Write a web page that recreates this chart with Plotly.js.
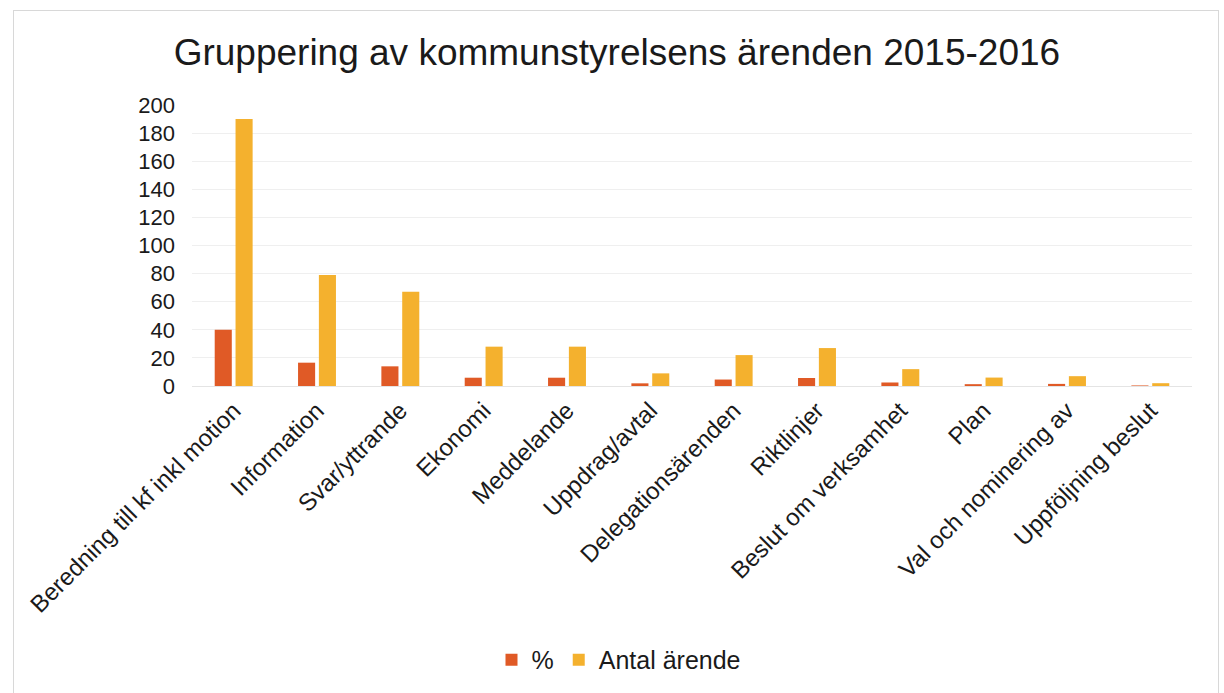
<!DOCTYPE html>
<html>
<head>
<meta charset="utf-8">
<script src="https://cdn.plot.ly/plotly-3.0.1.min.js"></script>
<style>
html,body{margin:0;padding:0;background:#fff;}
#wrap{position:relative;width:1224px;height:693px;}
#chart{width:1224px;height:693px;}
#frame{position:absolute;left:13px;top:10px;width:1204px;height:690px;border:1px solid #d8d8d8;pointer-events:none;}
</style>
</head>
<body>
<div id="wrap"><div id="chart"></div><div id="frame"></div></div>
<script>
var categories = ["Beredning till kf inkl motion","Information","Svar/yttrande","Ekonomi","Meddelande","Uppdrag/avtal","Delegationsärenden","Riktlinjer","Beslut om verksamhet","Plan","Val och nominering av","Uppföljning beslut"];
var percentValues = [40, 16.6, 14, 5.9, 5.9, 1.9, 4.6, 5.7, 2.5, 1.3, 1.5, 0.4];
var antalValues = [190, 79, 67, 28, 28, 9, 22, 27, 12, 6, 7, 2];
var yTicks = [0,20,40,60,80,100,120,140,160,180,200];

var fontFam = "Liberation Sans, Arial, sans-serif";
var traces = [
  {type:"bar", name:"%", x:categories, y:percentValues, marker:{color:"#E05A26"}},
  {type:"bar", name:"Antal ärende", x:categories, y:antalValues, marker:{color:"#F4B12E"}}
];
var layout = {
  width:1224, height:693,
  margin:{l:192, r:32, t:105, b:306},
  paper_bgcolor:"#ffffff", plot_bgcolor:"#ffffff",
  font:{family:fontFam, color:"#1a1a1a"},
  title:{text:"Gruppering av kommunstyrelsens ärenden 2015-2016", font:{size:37, family:fontFam, color:"#1a1a1a"}, x:0.504, xanchor:"center", y:0.925, yanchor:"middle"},
  barmode:"group", bargap:0.5, bargroupgap:0.18,
  xaxis:{tickangle:-45, tickfont:{size:24, family:fontFam, color:"#1a1a1a"}, showline:true, linecolor:"#e4e4e4", ticks:"", showgrid:false},
  yaxis:{range:[0,200], tickvals:yTicks, tickfont:{size:22, family:fontFam, color:"#1a1a1a"}, showgrid:true, gridcolor:"#efefef", zeroline:false, showline:false, ticks:"", ticklen:0, ticklabelstandoff:16},
  showlegend:true,
  legend:{orientation:"h", x:0.427, xanchor:"center", y:-0.968, yanchor:"middle", font:{size:25, family:fontFam, color:"#1a1a1a"}, itemwidth:30, traceorder:"normal"}
};
Plotly.newPlot("chart", traces, layout, {displayModeBar:false, staticPlot:true});
</script>
</body>
</html>
